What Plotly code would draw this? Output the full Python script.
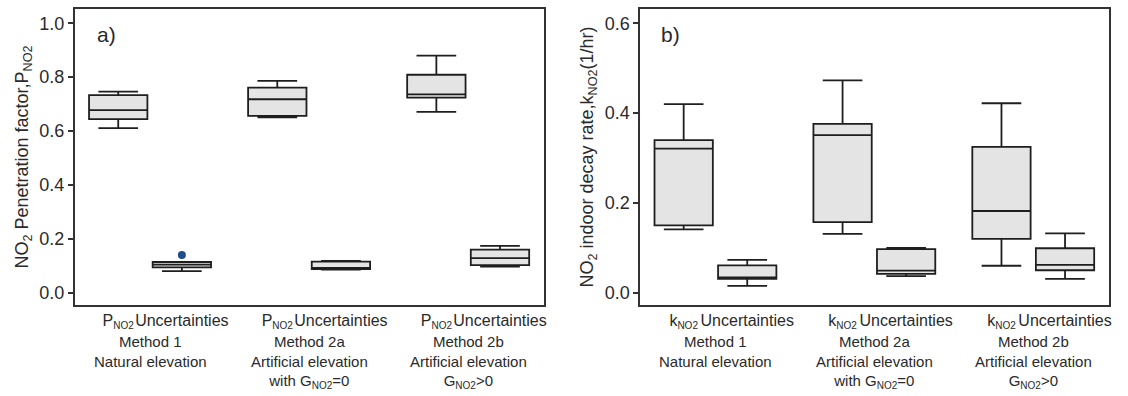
import plotly.graph_objects as go

# Box positions: two boxes (estimate, uncertainties) per method group
positions = [0.8, 1.2, 1.8, 2.2, 2.8, 3.2]
group_centers = [1, 2, 3]

# a) NO2 penetration factor
a_q1 = [0.644, 0.094, 0.656, 0.088, 0.724, 0.102]
a_median = [0.678, 0.104, 0.718, 0.091, 0.736, 0.128]
a_q3 = [0.733, 0.114, 0.761, 0.115, 0.809, 0.160]
a_lower = [0.611, 0.080, 0.651, 0.086, 0.671, 0.097]
a_upper = [0.746, 0.114, 0.786, 0.118, 0.880, 0.174]
a_outlier_x = [1.2]
a_outlier_y = [0.140]

# b) NO2 indoor decay rate
b_q1 = [0.150, 0.031, 0.157, 0.042, 0.120, 0.050]
b_median = [0.321, 0.034, 0.351, 0.049, 0.182, 0.062]
b_q3 = [0.340, 0.061, 0.376, 0.097, 0.325, 0.099]
b_lower = [0.141, 0.015, 0.131, 0.037, 0.060, 0.031]
b_upper = [0.420, 0.073, 0.473, 0.100, 0.422, 0.132]

SMALL_SUB = "<sub><span style='font-size:10px'>NO2</span></sub>"
a_ticktext = ["P" + SMALL_SUB, "Uncertainties"] * 3
b_ticktext = ["k" + SMALL_SUB, "Uncertainties"] * 3
a_yticks = [0.0, 0.2, 0.4, 0.6, 0.8, 1.0]
b_yticks = [0.0, 0.2, 0.4, 0.6]
method_labels = [
    "Method 1<br>Natural elevation",
    "Method 2a<br>Artificial elevation<br>with G" + SMALL_SUB + "=0",
    "Method 2b<br>Artificial elevation<br>G" + SMALL_SUB + ">0",
]

FONT = "Liberation Sans, Arial, sans-serif"
INK = "#2a2a2a"
W, H = 1128, 396
Y_BOT, Y_TOP = 305, 9

fig = go.Figure()

box_style = dict(
    fillcolor="#e4e4e4",
    line=dict(color="#1e1e1e", width=1.8),
    whiskerwidth=0.68,
    width=0.367,
    boxpoints=False,
    showlegend=False,
)

fig.add_trace(go.Box(x=positions, q1=a_q1, median=a_median, q3=a_q3,
                     lowerfence=a_lower, upperfence=a_upper,
                     xaxis="x", yaxis="y", **box_style))
fig.add_trace(go.Scatter(x=a_outlier_x, y=a_outlier_y, mode="markers",
                         marker=dict(color="#1f4e8a", size=8),
                         xaxis="x", yaxis="y", showlegend=False))
fig.add_trace(go.Box(x=positions, q1=b_q1, median=b_median, q3=b_q3,
                     lowerfence=b_lower, upperfence=b_upper,
                     xaxis="x2", yaxis="y2", **box_style))

xaxis_common = dict(
    range=[0.527, 3.477], tickvals=positions, ticks="", tickangle=0,
    showline=True, mirror=True, linecolor="#333", linewidth=1.8,
    showgrid=False, zeroline=False,
    tickfont=dict(family=FONT, size=16, color=INK),
    ticklabelstandoff=0,
)
yaxis_common = dict(
    showline=True, mirror=True, linecolor="#333", linewidth=1.8,
    showgrid=False, zeroline=False, ticks="outside", ticklen=5,
    tickwidth=1.5, tickcolor="#333",
    tickfont=dict(family=FONT, size=18, color=INK),
    tickformat=".1f",
    domain=[(H - Y_BOT) / H, (H - Y_TOP) / H],
)

fig.update_layout(
    width=W, height=H,
    margin=dict(l=0, r=0, t=0, b=0),
    paper_bgcolor="white", plot_bgcolor="white",
    font=dict(family=FONT, color=INK),
    xaxis=dict(domain=[75 / W, 545.5 / W], ticktext=a_ticktext, **xaxis_common),
    xaxis2=dict(domain=[642 / W, 1112 / W], ticktext=b_ticktext, anchor="y2",
                **xaxis_common),
    yaxis=dict(range=[-0.0457, 1.053], tickvals=a_yticks,
               title=dict(text="NO<sub>2</sub> Penetration factor,P<sub>NO2</sub>",
                          font=dict(size=18, family=FONT, color=INK), standoff=6),
               **yaxis_common),
    yaxis2=dict(range=[-0.0274, 0.632], tickvals=b_yticks, anchor="x2",
                title=dict(text="NO<sub>2</sub> indoor decay rate,k<sub>NO2</sub>(1/hr)",
                           font=dict(size=18, family=FONT, color=INK), standoff=6),
                **yaxis_common),
)

annotations = []
# Panel letters
annotations.append(dict(text="a)", xref="x", yref="paper", x=0.527, y=(H - 35) / H,
                        xanchor="left", yanchor="middle", xshift=20,
                        showarrow=False, font=dict(size=21, family=FONT, color=INK)))
annotations.append(dict(text="b)", xref="x2", yref="paper", x=0.527, y=(H - 34) / H,
                        xanchor="left", yanchor="middle", xshift=19,
                        showarrow=False, font=dict(size=21, family=FONT, color=INK)))

# Method group labels under each panel
for xref in ["x", "x2"]:
    for center, label in zip(group_centers, method_labels):
        annotations.append(dict(
            text=label, xref=xref, yref="paper", x=center, y=(H - 332) / H,
            xanchor="center", yanchor="top", showarrow=False, borderpad=0,
            font=dict(size=15, family=FONT, color=INK)))

fig.update_layout(annotations=annotations)

fig.write_html("out.html")
